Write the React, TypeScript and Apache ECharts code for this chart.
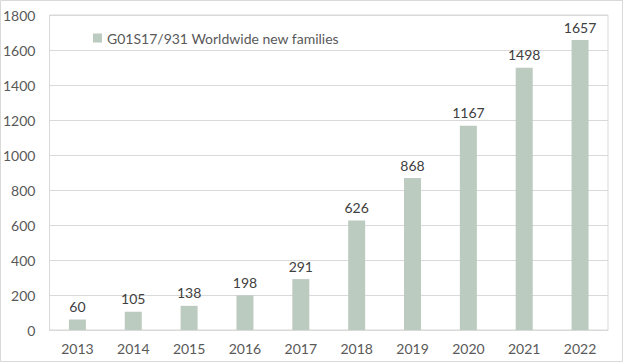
import React, { useEffect, useRef } from "react";
import * as echarts from "echarts";

const categories = ["2013", "2014", "2015", "2016", "2017", "2018", "2019", "2020", "2021", "2022"];
const values = [60, 105, 138, 198, 291, 626, 868, 1167, 1498, 1657];
const seriesName = "G01S17/931 Worldwide new families";

export default function App() {
  const ref = useRef<HTMLDivElement>(null);
  useEffect(() => {
    document.body.style.margin = "0";
    const chart = echarts.init(ref.current!, null, { renderer: "svg" });
    const font = "Lato, 'Open Sans', sans-serif";
    chart.setOption({
      animation: false,
      backgroundColor: "#ffffff",
      textStyle: { fontFamily: font },
      graphic: [
        {
          type: "rect",
          shape: { x: 0.5, y: 0.5, width: 622, height: 361 },
          style: { fill: "none", stroke: "#d9d9d9", lineWidth: 1 },
          silent: true,
        },
      ],
      legend: {
        left: 88,
        top: 26,
        itemWidth: 9,
        itemHeight: 9,
        itemGap: 6,
        textStyle: { color: "#595959", fontSize: 14, fontFamily: font },
        data: [{ name: seriesName, icon: "rect" }],
      },
      grid: { left: 48, right: 16, top: 15, bottom: 33, show: true, borderColor: "#d9d9d9", borderWidth: 1 },
      xAxis: {
        type: "category",
        data: categories,
        axisLine: { lineStyle: { color: "#d9d9d9" } },
        axisTick: { show: false },
        axisLabel: { color: "#595959", fontSize: 14, margin: 11, fontFamily: font },
      },
      yAxis: {
        type: "value",
        min: 0,
        max: 1800,
        interval: 200,
        axisLine: { show: false },
        axisTick: { show: false },
        splitLine: { lineStyle: { color: "#d9d9d9" } },
        axisLabel: {
          color: "#595959",
          fontSize: 14,
          margin: 14,
          fontFamily: font,
          formatter: (v: number) => String(v),
        },
      },
      series: [
        {
          name: seriesName,
          type: "bar",
          data: values,
          barWidth: 17,
          itemStyle: { color: "#bccbbf" },
          label: { show: true, position: "top", distance: 6, color: "#404040", fontSize: 14, fontFamily: font },
        },
      ],
    });
    return () => chart.dispose();
  }, []);
  return <div ref={ref} style={{ width: 624, height: 363 }} />;
}
